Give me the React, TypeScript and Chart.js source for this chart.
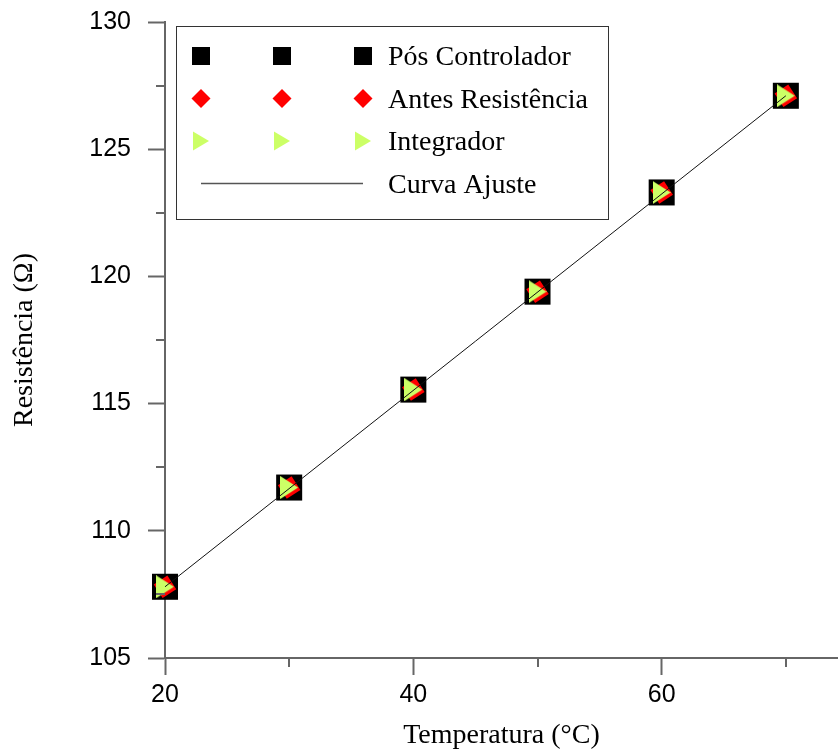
import { useEffect, useRef } from 'react';
import { Chart, registerables } from 'chart.js';

Chart.register(...registerables);

// Medições de resistência em função da temperatura
const temperaturas = [20, 30, 40, 50, 60, 70];
const posControlador = [107.8, 111.7, 115.55, 119.4, 123.3, 127.1];
const antesResistencia = [107.8, 111.7, 115.55, 119.4, 123.3, 127.1];
const integrador = [107.8, 111.7, 115.55, 119.4, 123.3, 127.1];

// Reta de ajuste (extremos)
const ajusteX = [20, 70];
const ajusteY = [107.8, 127.1];

// Marcas secundárias dos eixos
const xMinorTicks = [30, 50, 70];
const yMinorTicks = [107.5, 112.5, 117.5, 122.5, 127.5];

const legendLabels = ['Pós Controlador', 'Antes Resistência', 'Integrador', 'Curva Ajuste'];

const SERIF = '"Liberation Serif", "Times New Roman", serif';
const SANS = '"Liberation Sans", Arial, sans-serif';
const AXIS_GRAY = '#666666';
const GREEN = '#ccff66';
const RED = '#ff0000';

const toPoints = (xs: number[], ys: number[]) => xs.map((x, i) => ({ x, y: ys[i] }));

// Ticks secundários, mais curtos que os principais
const minorTicksPlugin = {
  id: 'minorTicks',
  afterDraw(chart: any) {
    const { ctx, chartArea, scales } = chart;
    const len = 9;
    ctx.save();
    ctx.strokeStyle = AXIS_GRAY;
    ctx.lineWidth = 2;
    ctx.beginPath();
    xMinorTicks.forEach((v) => {
      const px = Math.round(scales.x.getPixelForValue(v));
      ctx.moveTo(px, chartArea.bottom);
      ctx.lineTo(px, chartArea.bottom + len);
    });
    yMinorTicks.forEach((v) => {
      const py = Math.round(scales.y.getPixelForValue(v));
      ctx.moveTo(chartArea.left, py);
      ctx.lineTo(chartArea.left - len, py);
    });
    ctx.stroke();
    ctx.restore();
  },
};

function drawSquare(ctx: CanvasRenderingContext2D, x: number, y: number, s: number) {
  ctx.fillStyle = '#000';
  ctx.fillRect(x - s / 2, y - s / 2, s, s);
}

function drawDiamond(ctx: CanvasRenderingContext2D, x: number, y: number, r: number) {
  ctx.fillStyle = RED;
  ctx.beginPath();
  ctx.moveTo(x, y - r);
  ctx.lineTo(x + r, y);
  ctx.lineTo(x, y + r);
  ctx.lineTo(x - r, y);
  ctx.closePath();
  ctx.fill();
}

function drawTriangle(ctx: CanvasRenderingContext2D, x: number, y: number, w: number, h: number) {
  ctx.fillStyle = GREEN;
  ctx.beginPath();
  ctx.moveTo(x - w / 2, y - h / 2);
  ctx.lineTo(x + w / 2, y);
  ctx.lineTo(x - w / 2, y + h / 2);
  ctx.closePath();
  ctx.fill();
}

// Triângulo voltado para a direita, centrado pela caixa delimitadora
function makeTriangleSymbol(w: number, h: number) {
  const c = document.createElement('canvas');
  c.width = w;
  c.height = h;
  const g = c.getContext('2d');
  if (g) drawTriangle(g, w / 2, h / 2, w, h);
  return c;
}

// Quadro de legenda no estilo do SigmaPlot: três símbolos por linha
const legendBoxPlugin = {
  id: 'legendBox',
  afterDraw(chart: any) {
    const { ctx, chartArea } = chart;
    const left = chartArea.left + 11;
    const top = chartArea.top + 4;
    const width = 432;
    const height = 193;
    ctx.save();
    ctx.strokeStyle = '#333';
    ctx.lineWidth = 1;
    ctx.strokeRect(left + 0.5, top + 0.5, width, height);

    const symbolX = [left + 25, left + 106, left + 187];
    const textX = left + 212;
    const baseFirst = top + 39;
    const rowGap = 42.5;

    ctx.font = `28px ${SERIF}`;
    ctx.textBaseline = 'alphabetic';
    ctx.textAlign = 'left';

    legendLabels.forEach((label, i) => {
      const base = baseFirst + i * rowGap;
      const cy = base - 9;
      if (i === 0) symbolX.forEach((sx) => drawSquare(ctx, sx, cy, 18));
      if (i === 1) symbolX.forEach((sx) => drawDiamond(ctx, sx, cy, 9.5));
      if (i === 2) symbolX.forEach((sx) => drawTriangle(ctx, sx, cy, 16, 19));
      if (i === 3) {
        ctx.strokeStyle = '#555';
        ctx.lineWidth = 1.5;
        ctx.beginPath();
        ctx.moveTo(symbolX[0], cy);
        ctx.lineTo(symbolX[2], cy);
        ctx.stroke();
      }
      ctx.fillStyle = '#000';
      ctx.fillText(label, textX, base);
    });
    ctx.restore();
  },
};

export default function App() {
  const canvasRef = useRef<HTMLCanvasElement | null>(null);

  useEffect(() => {
    if (!canvasRef.current) return;
    const triangleSymbol = makeTriangleSymbol(18, 23);
    const chart = new Chart(canvasRef.current, {
      type: 'scatter',
      data: {
        datasets: [
          {
            label: legendLabels[3],
            data: toPoints(ajusteX, ajusteY),
            showLine: true,
            borderColor: '#111',
            borderWidth: 1,
            pointRadius: 0,
            clip: false,
          },
          {
            label: legendLabels[2],
            data: toPoints(temperaturas, integrador),
            pointStyle: triangleSymbol,
            pointRadius: 12,
            pointBorderWidth: 0,
            clip: false,
          },
          {
            label: legendLabels[1],
            data: toPoints(temperaturas, antesResistencia),
            pointStyle: 'rectRot',
            rotation: 12,
            pointRadius: 11.5,
            pointBackgroundColor: RED,
            pointBorderWidth: 0,
            clip: false,
          },
          {
            label: legendLabels[0],
            data: toPoints(temperaturas, posControlador),
            pointStyle: 'rect',
            pointRadius: 18.4,
            pointBackgroundColor: '#000',
            pointBorderWidth: 0,
            clip: false,
          },
        ],
      } as any,
      options: {
        animation: false,
        responsive: false,
        events: [],
        layout: { autoPadding: false, padding: { top: 22, left: 0, right: 0, bottom: 0 } },
        plugins: {
          legend: { display: false },
          tooltip: { enabled: false },
        },
        scales: {
          x: {
            type: 'linear',
            min: 20,
            max: 74.2,
            afterFit: (scale: any) => {
              scale.height = 95;
              scale.paddingLeft = 0;
              scale.paddingRight = 0;
            },
            ticks: {
              stepSize: 20,
              includeBounds: false,
              color: '#000',
              padding: 5,
              font: { family: SANS, size: 25 },
            },
            grid: {
              drawOnChartArea: false,
              drawTicks: true,
              tickLength: 17,
              tickColor: AXIS_GRAY,
              tickWidth: 2,
            },
            border: { color: AXIS_GRAY, width: 2 },
            title: {
              display: true,
              text: 'Temperatura (°C)',
              color: '#000',
              font: { family: SERIF, size: 28 },
              padding: { top: 0, bottom: 1 },
            },
          },
          y: {
            type: 'linear',
            min: 105,
            max: 130,
            afterFit: (scale: any) => {
              scale.width = 165;
              scale.paddingTop = 0;
              scale.paddingBottom = 0;
            },
            ticks: {
              stepSize: 5,
              includeBounds: false,
              color: '#000',
              padding: 17,
              font: { family: SANS, size: 25 },
            },
            grid: {
              drawOnChartArea: false,
              drawTicks: true,
              tickLength: 17,
              tickColor: AXIS_GRAY,
              tickWidth: 2,
            },
            border: { color: AXIS_GRAY, width: 2 },
            title: {
              display: true,
              text: 'Resistência (Ω)',
              color: '#000',
              font: { family: SERIF, size: 28 },
              padding: { top: 8, bottom: 0 },
            },
          },
        },
      } as any,
      plugins: [minorTicksPlugin, legendBoxPlugin],
    });
    return () => chart.destroy();
  }, []);

  return (
    <div style={{ position: 'absolute', left: 0, top: 0, width: 838, height: 753 }}>
      <canvas ref={canvasRef} width={838} height={753} />
    </div>
  );
}
